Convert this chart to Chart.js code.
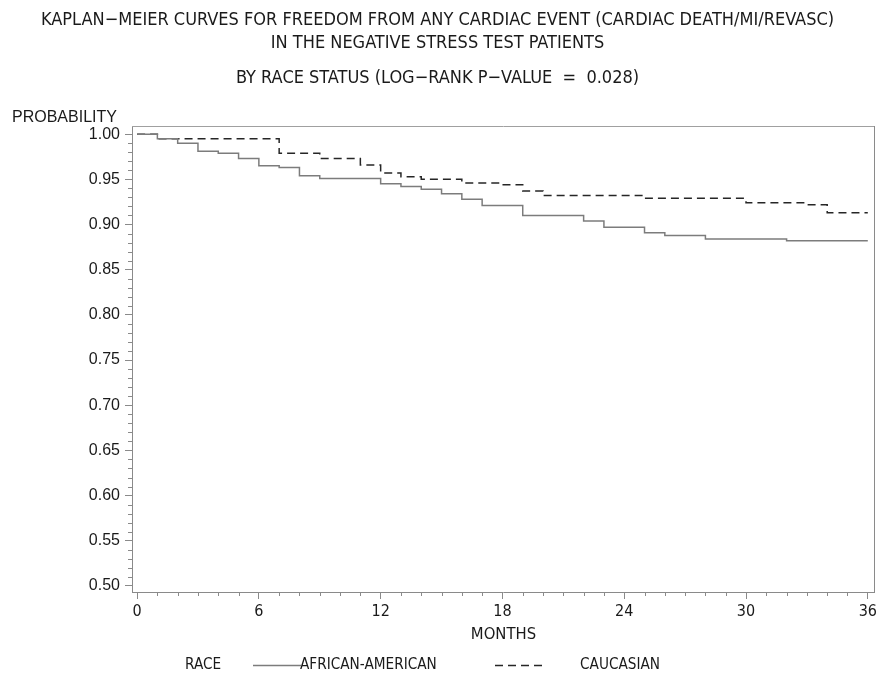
<!DOCTYPE html>
<html><head><meta charset="utf-8">
<script src="https://cdn.jsdelivr.net/npm/chart.js@4.4.1/dist/chart.umd.min.js"></script>
<style>html,body{margin:0;padding:0;background:#fff;}</style>
</head><body>
<canvas id="c" width="880" height="677"></canvas>
<script>
// ---- data ----
const aaMonths = [0, 1, 2, 3, 4, 5, 6, 7, 8, 9, 12, 13, 14, 15, 16, 17, 19, 22, 23, 25, 26, 28, 32, 36];
const aaSurv   = [1.000, 0.995, 0.990, 0.981, 0.979, 0.973, 0.965, 0.963, 0.954, 0.951, 0.945, 0.942, 0.939, 0.934, 0.928, 0.921, 0.910, 0.904, 0.897, 0.891, 0.888, 0.884, 0.882, 0.882];
const cauMonths = [0, 1, 7, 9, 11, 12, 13, 14, 16, 18, 19, 20, 25, 30, 33, 34, 36];
const cauSurv   = [1.000, 0.995, 0.979, 0.973, 0.966, 0.957, 0.953, 0.950, 0.946, 0.944, 0.937, 0.932, 0.929, 0.924, 0.922, 0.913, 0.913];
const seriesLabels = ['AFRICAN-AMERICAN', 'CAUCASIAN'];
const legendTitle = 'RACE';
const yAxisLabel = 'PROBABILITY';
const xAxisLabel = 'MONTHS';
const titleLines = ['KAPLAN\u2212MEIER CURVES FOR FREEDOM FROM ANY CARDIAC EVENT (CARDIAC DEATH/MI/REVASC)', 'IN THE NEGATIVE STRESS TEST PATIENTS'];
const subtitleText = 'BY RACE STATUS (LOG\u2212RANK P\u2212VALUE  =  0.028)';

const NARROW = "'Liberation Sans Narrow','Arial Narrow','DejaVu Sans Condensed',sans-serif";
const REG = "'Liberation Sans',Arial,sans-serif";
const AXIS = '#8a8a8a';
const TXT = '#1a1a1a';

const extras = {
  id: 'extras',
  afterDraw(chart) {
    const {ctx, chartArea: ca, scales: {x, y}} = chart;
    ctx.save();
    ctx.strokeStyle = AXIS; ctx.lineWidth = 1;
    ctx.beginPath();
    for (let i = 50; i <= 100; i++) {
      if (i % 5 === 0) continue;
      const py = Math.round(y.getPixelForValue(i / 100)) + 0.5;
      ctx.moveTo(ca.left, py); ctx.lineTo(ca.left - 4, py);
    }
    for (let m = 1; m < 36; m++) {
      if (m % 6 === 0) continue;
      const px = Math.round(x.getPixelForValue(m)) + 0.5;
      ctx.moveTo(px, ca.bottom); ctx.lineTo(px, ca.bottom + 4);
    }
    ctx.stroke();
    // y axis label
    ctx.fillStyle = TXT;
    ctx.font = '16px ' + REG;
    ctx.textBaseline = 'middle'; ctx.textAlign = 'left';
    ctx.fillText(yAxisLabel, 12, 118);
    // legend
    const ly = 665;
    ctx.font = '15.2px ' + NARROW;
    ctx.fillText(legendTitle, 185, ly);
    const ds = chart.data.datasets;
    ctx.lineWidth = ds[0].borderWidth; ctx.strokeStyle = ds[0].borderColor; ctx.setLineDash([]);
    ctx.beginPath(); ctx.moveTo(253, ly + 0.5); ctx.lineTo(301, ly + 0.5); ctx.stroke();
    ctx.fillText(ds[0].label, 300, ly);
    ctx.lineWidth = ds[1].borderWidth; ctx.strokeStyle = ds[1].borderColor; ctx.setLineDash(ds[1].borderDash);
    ctx.beginPath(); ctx.moveTo(495, ly + 0.5); ctx.lineTo(546, ly + 0.5); ctx.stroke();
    ctx.setLineDash([]);
    ctx.fillText(ds[1].label, 580, ly);
    ctx.restore();
  }
};

new Chart(document.getElementById('c'), {
  type: 'line',
  data: {
    datasets: [
      { label: seriesLabels[0], data: aaMonths.map((m, i) => ({x: m, y: aaSurv[i]})),
        borderColor: '#7c7c7c', borderWidth: 1.5, stepped: 'before', pointRadius: 0, fill: false },
      { label: seriesLabels[1], data: cauMonths.map((m, i) => ({x: m, y: cauSurv[i]})),
        borderColor: '#262626', borderWidth: 1.5, borderDash: [8, 5], stepped: 'before', pointRadius: 0, fill: false }
    ]
  },
  options: {
    responsive: false, animation: false, devicePixelRatio: 1,
    layout: {padding: {left: 0, right: 5, top: 0, bottom: 30}},
    plugins: {
      legend: {display: false}, tooltip: {enabled: false},
      title: {display: true, text: titleLines, color: TXT,
        font: {family: NARROW, size: 18, weight: 'normal', lineHeight: '23px'}, padding: {top: 8.5, bottom: 0}},
      subtitle: {display: true, text: subtitleText, color: TXT,
        font: {family: NARROW, size: 18, weight: 'normal', lineHeight: '20px'}, padding: {top: 13.5, bottom: 38.5}}
    },
    scales: {
      x: {type: 'linear', position: 'bottom', min: -0.25, max: 36.35,
        afterFit(s) { s.height = 55; },
        ticks: {stepSize: 6, includeBounds: false, color: TXT, padding: 3, maxRotation: 0,
          font: {family: NARROW, size: 16}},
        grid: {drawOnChartArea: false, tickLength: 7, color: AXIS},
        border: {color: AXIS, width: 1},
        title: {display: true, text: xAxisLabel, color: TXT, font: {family: NARROW, size: 16.5}, padding: {top: 0, bottom: 2}}},
      y: {type: 'linear', position: 'left', min: 0.4933, max: 1.0085,
        afterFit(s) { s.width = 132; },
        ticks: {stepSize: 0.05, includeBounds: false, color: TXT, padding: 5,
          font: {family: REG, size: 16}, callback: v => v.toFixed(2)},
        grid: {drawOnChartArea: false, tickLength: 7, color: AXIS},
        border: {color: AXIS, width: 1}},
      x2: {type: 'linear', position: 'top', min: -0.25, max: 36.35,
        afterFit(s) { s.height = 0; },
        ticks: {display: false}, grid: {drawOnChartArea: false, drawTicks: false},
        border: {display: true, color: '#a0a0a0', width: 1}},
      y2: {type: 'linear', position: 'right', min: 0.4933, max: 1.0085,
        afterFit(s) { s.width = 0; },
        ticks: {display: false}, grid: {drawOnChartArea: false, drawTicks: false},
        border: {display: true, color: AXIS, width: 1}}
    }
  },
  plugins: [extras]
});
</script>
</body></html>
